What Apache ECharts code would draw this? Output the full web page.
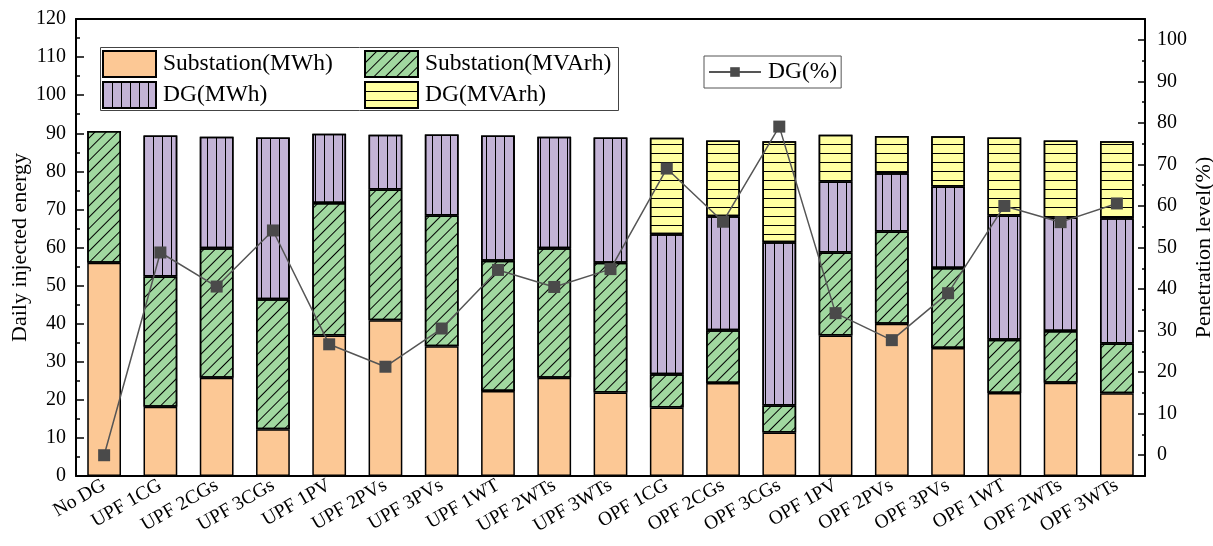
<!DOCTYPE html>
<html>
<head>
<meta charset="utf-8">
<script src="https://cdn.jsdelivr.net/npm/echarts@6/dist/echarts.min.js"></script>
<style>html,body{margin:0;padding:0;background:#fff;}#c{width:1213px;height:546px;}</style>
</head>
<body>
<div id="c"></div>
<script>
const categories = ['No DG','UPF 1CG','UPF 2CGs','UPF 3CGs','UPF 1PV','UPF 2PVs','UPF 3PVs','UPF 1WT','UPF 2WTs','UPF 3WTs','OPF 1CG','OPF 2CGs','OPF 3CGs','OPF 1PV','OPF 2PVs','OPF 3PVs','OPF 1WT','OPF 2WTs','OPF 3WTs'];
const substationMWh = [56.0,18.2,25.8,12.3,36.9,40.9,34.1,22.3,25.8,21.9,18.0,24.4,11.4,36.9,40.0,33.6,21.8,24.5,21.7];
const substationMVArh = [34.6,34.2,34.0,34.1,34.8,34.3,34.3,34.2,34.0,34.1,8.7,13.9,7.1,21.8,24.2,21.0,14.0,13.6,13.1];
const dgMWh = [null,37.0,29.3,42.5,18.2,14.4,21.3,32.9,29.3,32.9,36.8,29.9,42.9,18.6,15.3,21.4,32.6,29.8,32.9];
const dgMVArh = [null,null,null,null,null,null,null,null,null,null,25.3,19.9,26.5,12.3,9.8,13.2,20.5,20.2,20.2];
const dgPercent = [0,48.8,40.6,54.1,26.7,21.3,30.5,44.6,40.5,44.8,69.0,56.2,79.1,34.2,27.7,39.0,60.0,56.1,60.6];
const leftTicks = {min: 0, max: 120, interval: 10};
const rightMajor = [0,10,20,30,40,50,60,70,80,90,100];
const rightMinor = [5,15,25,35,45,55,65,75,85,95];

const FONT = 'Liberation Serif';
const chart = echarts.init(document.getElementById('c'), null, {renderer: 'canvas'});
const border = {borderColor: '#000', borderWidth: 1.5};
function bar(name, data, color, decal) {
  const s = {
    name, type: 'bar', stack: 'total', data, barWidth: '60%',
    itemStyle: Object.assign({color}, border),
    emphasis: {disabled: true}
  };
  if (decal) s.itemStyle.decal = decal;
  return s;
}
const legendText = {fontFamily: FONT, fontSize: 23.5, color: '#000', padding: [0, 0, 0, 2]};
const option = {
  animation: false,
  textStyle: {fontFamily: FONT, color: '#000'},
  grid: {left: 76, right: 68, top: 19, bottom: 70, containLabel: false, outerBoundsMode: 'none'},
  legend: [
    {data: ['Substation(MWh)','DG(MWh)'], orient: 'vertical', left: 102, top: 50, itemWidth: 53, itemHeight: 26, itemGap: 3,
     icon: 'rect', textStyle: legendText, padding: 0},
    {data: ['Substation(MVArh)','DG(MVArh)'], orient: 'vertical', left: 364, top: 50, itemWidth: 53, itemHeight: 26, itemGap: 3,
     icon: 'rect', textStyle: legendText, padding: 0},
    {data: ['DG(%)'], left: 704, top: 56, itemWidth: 52, itemHeight: 12, borderColor: '#555', borderWidth: 1,
     padding: [4, 4, 4, 4], textStyle: legendText}
  ],
  graphic: [{type: 'rect', left: 98, top: 45, shape: {width: 518, height: 63}, style: {fill: 'none', stroke: '#444', lineWidth: 1}, z: 100}],
  xAxis: [
    {type: 'category', data: categories, position: 'bottom',
     axisLine: {onZero: false, lineStyle: {color: '#000', width: 2}},
     axisTick: {alignWithLabel: true, inside: true, length: 7, lineStyle: {color: '#000', width: 1.5}},
     axisLabel: {rotate: 30, fontFamily: FONT, fontSize: 19.5, color: '#000', margin: 8, interval: 0}},
    {type: 'category', data: categories, position: 'top',
     axisLine: {onZero: false, lineStyle: {color: '#000', width: 2}},
     axisTick: {alignWithLabel: true, inside: true, length: 7, lineStyle: {color: '#000', width: 1.5}},
     axisLabel: {show: false}},
    {type: 'category', data: categories, position: 'bottom',
     axisLine: {show: false, onZero: false}, axisTick: {inside: true, length: 3, lineStyle: {color: '#000', width: 1.5}},
     axisLabel: {show: false}},
    {type: 'category', data: categories, position: 'top',
     axisLine: {show: false, onZero: false}, axisTick: {inside: true, length: 4, lineStyle: {color: '#000', width: 1.5}},
     axisLabel: {show: false}}
  ],
  yAxis: [
    {type: 'value', position: 'left', min: leftTicks.min, max: leftTicks.max, interval: leftTicks.interval,
     name: 'Daily injected energy', nameLocation: 'middle', nameGap: 45, nameRotate: 90, nameMoveOverlap: false,
     nameTextStyle: {fontFamily: FONT, fontSize: 22, color: '#000'},
     axisLine: {show: true, onZero: false, lineStyle: {color: '#000', width: 2}},
     axisTick: {show: true, inside: true, length: 8, lineStyle: {color: '#000', width: 1.5}},
     minorTick: {show: true, splitNumber: 2, length: 4, lineStyle: {color: '#000', width: 1.5}},
     splitLine: {show: false},
     axisLabel: {fontFamily: FONT, fontSize: 20, color: '#000', margin: 10}},
    {type: 'value', position: 'right', min: -5, max: 105,
     name: 'Penetration level(%)', nameLocation: 'middle', nameGap: 48, nameRotate: 90, nameMoveOverlap: false,
     nameTextStyle: {fontFamily: FONT, fontSize: 22, color: '#000'},
     axisLine: {show: true, onZero: false, lineStyle: {color: '#000', width: 2}},
     axisTick: {show: true, inside: true, length: 7, customValues: rightMajor, lineStyle: {color: '#000', width: 1.5}},
     splitLine: {show: false},
     axisLabel: {fontFamily: FONT, fontSize: 20, color: '#000', margin: 12, customValues: rightMajor}},
    {type: 'value', position: 'right', min: -5, max: 105,
     axisLine: {show: false, onZero: false},
     axisTick: {show: true, inside: true, length: 3, customValues: rightMinor, lineStyle: {color: '#000', width: 1.5}},
     splitLine: {show: false},
     axisLabel: {show: false}}
  ],
  series: [
    bar('Substation(MWh)', substationMWh, '#FCC895'),
    bar('Substation(MVArh)', substationMVArh, '#A1D8A0',
        {symbol: 'rect', symbolSize: 1, color: '#000', dashArrayX: [1, 7], dashArrayY: [1, 0], rotation: Math.PI / 4}),
    bar('DG(MWh)', dgMWh, '#C3B3D6',
        {symbol: 'rect', symbolSize: 1, color: '#000', dashArrayX: [1, 7.5], dashArrayY: [1, 0], rotation: 0}),
    bar('DG(MVArh)', dgMVArh, '#FFFFA0',
        {symbol: 'rect', symbolSize: 1, color: '#000', dashArrayX: [1, 0], dashArrayY: [1, 8], rotation: 0}),
    {name: 'DG(%)', type: 'line', yAxisIndex: 1, data: dgPercent, symbol: 'rect', symbolSize: 12,
     itemStyle: {color: '#4a4a4a'}, lineStyle: {color: '#555', width: 1.5}, z: 10, emphasis: {disabled: true}}
  ]
};
chart.setOption(option);
</script>
</body>
</html>
